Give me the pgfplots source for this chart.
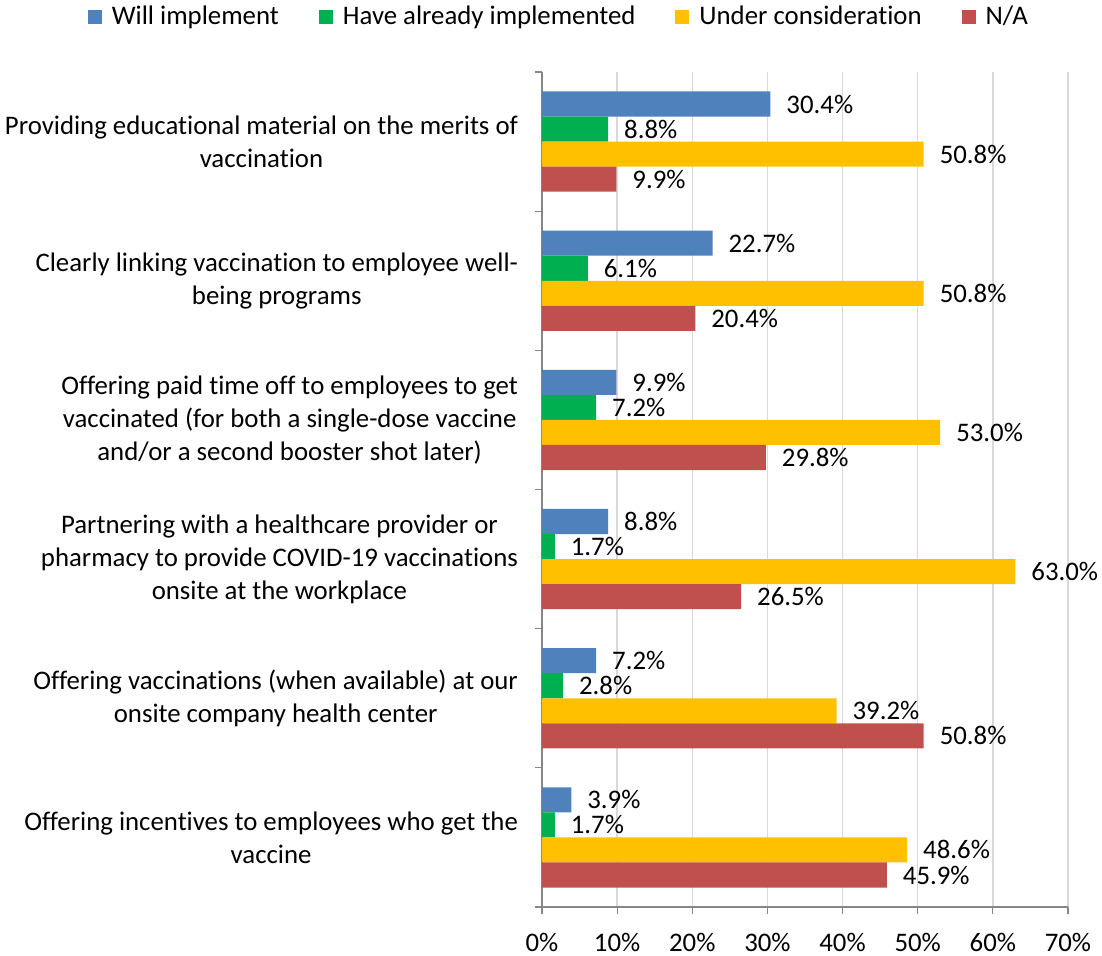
\documentclass[border=0pt]{standalone}
\usepackage{pgfplots}
\pgfplotsset{compat=1.18}
\usepackage{pgfplotstable}
\usepackage{fontspec}
\setmainfont{Carlito}[Ligatures={NoCommon}]
\definecolor{cblue}{HTML}{4F81BD}
\definecolor{cgreen}{HTML}{00B050}
\definecolor{cyellow}{HTML}{FFC000}
\definecolor{cred}{HTML}{C0504D}
\definecolor{axgray}{HTML}{868686}
\definecolor{grgray}{HTML}{D9D9D9}
\newcommand{\lblfont}{\fontsize{13.4pt}{16.5pt}\selectfont}

% pos: 5 = top category, 0 = bottom category
\pgfplotstableread{
pos val
5 30.4
4 22.7
3 9.9
2 8.8
1 7.2
0 3.9
}\willimpl
\pgfplotstableread{
pos val
5 8.8
4 6.1
3 7.2
2 1.7
1 2.8
0 1.7
}\already
\pgfplotstableread{
pos val
5 50.8
4 50.8
3 53.0
2 63.0
1 39.2
0 48.6
}\underc
\pgfplotstableread{
pos val
5 9.9
4 20.4
3 29.8
2 26.5
1 50.8
0 45.9
}\na

\begin{document}
\begin{tikzpicture}
\useasboundingbox (-271pt,-24pt) rectangle (280pt,453.5pt);
\begin{axis}[
  at={(0,0)}, anchor=south west,
  scale only axis,
  width=263pt, height=417.5pt,
  xbar, bar width=0.18,
  xmin=0, xmax=70,
  ymin=-0.5, ymax=5.5,
  axis x line*=bottom,
  axis y line*=left,
  axis line style={draw=axgray, line width=0.6pt},
  tick align=outside,
  major tick length=3.5pt,
  minor tick length=3.5pt,
  xtick={0,10,...,70},
  x tick style={draw=axgray, line width=0.6pt},
  major y tick style={draw=none},
  minor y tick style={draw=axgray, line width=0.6pt},
  ytick={0,1,2,3,4,5},
  minor ytick={-0.5,0.5,...,5.5},
  yticklabels={
    {Offering incentives to employees who get the\\vaccine},
    {Offering vaccinations (when available) at our\\onsite company health center},
    {Partnering with a healthcare provider or\\pharmacy to provide COVID-19 vaccinations\\onsite at the workplace},
    {Offering paid time off to employees to get\\vaccinated (for both a single-dose vaccine\\and/or a second booster shot later)},
    {Clearly linking vaccination to employee well-\\being programs},
    {Providing educational material on the merits of\\vaccination}
  },
  yticklabel style={align=center, font=\lblfont, xshift=-5pt},
  /pgf/number format/assume math mode=true,
  xticklabel={\pgfmathprintnumber{\tick}\%},
  xticklabel style={font=\lblfont, yshift=-6pt},
  xmajorgrids,
  grid style={draw=grgray, line width=0.75pt},
  point meta=x,
  nodes near coords={\pgfmathprintnumber[fixed,fixed zerofill,precision=1]{\pgfplotspointmeta}\%},
  nodes near coords style={anchor=west, xshift=4.5pt, font=\lblfont, black},
  legend columns=4,
  legend style={at={(0.034,1.066)}, anchor=center, draw=none, fill=none,
    font=\lblfont,
    /tikz/every odd column/.append style={column sep=3pt},
    /tikz/every even column/.append style={column sep=18pt},
    nodes={inner sep=2pt}},
  legend image code/.code={\fill[#1] (0pt,-3.5pt) rectangle (7pt,3.5pt);},
]
\addplot[fill=cblue, draw=none, bar shift=0.27] table[x=val, y=pos] {\willimpl};
\addplot[fill=cgreen, draw=none, bar shift=0.09] table[x=val, y=pos] {\already};
\addplot[fill=cyellow, draw=none, bar shift=-0.09] table[x=val, y=pos] {\underc};
\addplot[fill=cred, draw=none, bar shift=-0.27] table[x=val, y=pos] {\na};
\legend{Will implement, Have already implemented, Under consideration, N/A}
\end{axis}
\end{tikzpicture}
\end{document}
